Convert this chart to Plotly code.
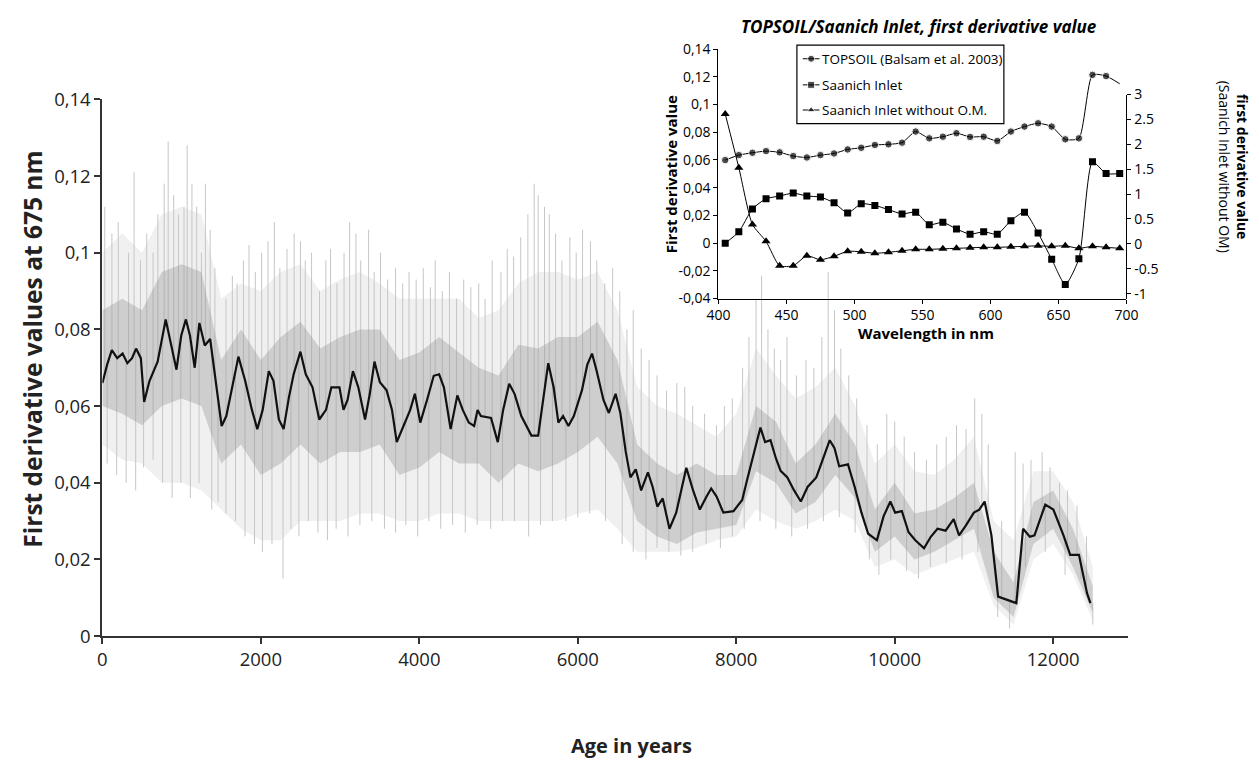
import numpy as np
import plotly.graph_objects as go

# ---------------- main chart data (age in years, first derivative at 675 nm) ----------------
smooth_pts = [
    (0, 0.0660), (60, 0.0708), (119, 0.0746), (187, 0.0725), (255, 0.0737), (315, 0.0712), (374, 0.0725),
    (425, 0.0750), (485, 0.0725), (527, 0.0611), (595, 0.0666), (646, 0.0691), (697, 0.0716), (799, 0.0826),
    (867, 0.0758), (935, 0.0695), (995, 0.0784), (1054, 0.0826), (1105, 0.0784), (1165, 0.0700), (1224, 0.0817),
    (1292, 0.0758), (1360, 0.0775), (1420, 0.0683), (1505, 0.0548), (1564, 0.0574), (1632, 0.0641), (1717, 0.0729),
    (1802, 0.0666), (1887, 0.0590), (1955, 0.0540), (2023, 0.0590), (2100, 0.0691), (2159, 0.0666), (2227, 0.0565),
    (2287, 0.0540), (2355, 0.0624), (2414, 0.0683), (2499, 0.0742), (2567, 0.0683), (2652, 0.0649), (2737, 0.0565),
    (2822, 0.0590), (2890, 0.0649), (2992, 0.0649), (3043, 0.0590), (3094, 0.0616), (3162, 0.0691), (3230, 0.0649),
    (3315, 0.0565), (3375, 0.0632), (3434, 0.0716), (3502, 0.0662), (3587, 0.0641), (3655, 0.0590), (3715, 0.0506),
    (3800, 0.0548), (3885, 0.0590), (3944, 0.0632), (4012, 0.0557), (4097, 0.0616), (4182, 0.0679), (4250, 0.0683),
    (4310, 0.0649), (4395, 0.0540), (4480, 0.0628), (4548, 0.0590), (4624, 0.0557), (4692, 0.0548), (4735, 0.0590),
    (4777, 0.0574), (4905, 0.0569), (4990, 0.0506), (5058, 0.0590), (5134, 0.0658), (5202, 0.0632), (5287, 0.0574),
    (5355, 0.0548), (5415, 0.0523), (5500, 0.0523), (5559, 0.0616), (5627, 0.0712), (5695, 0.0649), (5755, 0.0557),
    (5814, 0.0574), (5882, 0.0548), (5950, 0.0574), (6052, 0.0641), (6120, 0.0708), (6180, 0.0737), (6239, 0.0691),
    (6324, 0.0616), (6392, 0.0582), (6477, 0.0632), (6537, 0.0582), (6605, 0.0481), (6664, 0.0414), (6732, 0.0435),
    (6800, 0.0380), (6885, 0.0427), (6945, 0.0389), (7004, 0.0338), (7072, 0.0359), (7157, 0.0280), (7242, 0.0322),
    (7310, 0.0380), (7370, 0.0439), (7455, 0.0380), (7540, 0.0330), (7625, 0.0364), (7684, 0.0385), (7752, 0.0364),
    (7837, 0.0322), (7965, 0.0326), (8075, 0.0355), (8135, 0.0406), (8220, 0.0473), (8305, 0.0544), (8364, 0.0506),
    (8432, 0.0511), (8500, 0.0464), (8560, 0.0431), (8645, 0.0414), (8730, 0.0380), (8815, 0.0351), (8900, 0.0389),
    (9010, 0.0414), (9095, 0.0464), (9180, 0.0511), (9240, 0.0490), (9299, 0.0443), (9410, 0.0448), (9495, 0.0389),
    (9580, 0.0322), (9665, 0.0267), (9775, 0.0250), (9860, 0.0313), (9945, 0.0351), (10005, 0.0322), (10090, 0.0326),
    (10175, 0.0271), (10260, 0.0250), (10370, 0.0229), (10455, 0.0259), (10540, 0.0280), (10642, 0.0275),
    (10744, 0.0305), (10812, 0.0263), (10897, 0.0288), (10999, 0.0322), (11067, 0.0330), (11135, 0.0351),
    (11220, 0.0263), (11305, 0.0103), (11424, 0.0095), (11535, 0.0086), (11620, 0.0280), (11705, 0.0259),
    (11764, 0.0263), (11900, 0.0343), (12002, 0.0330), (12130, 0.0263), (12215, 0.0212), (12325, 0.0212),
    (12427, 0.0112), (12470, 0.0086),
]
smooth_age = [p[0] for p in smooth_pts]
smooth_val = [p[1] for p in smooth_pts]

# envelope of the raw (unsmoothed) measurements, read every 250 years
env_age = [0, 250, 500, 750, 1000, 1250, 1500, 1750, 2000, 2250, 2500, 2750, 3000, 3250, 3500, 3750, 4000,
           4250, 4500, 4750, 5000, 5250, 5500, 5750, 6000, 6250, 6500, 6750, 7000, 7250, 7500, 7750, 8000,
           8250, 8500, 8750, 9000, 9250, 9500, 9750, 10000, 10250, 10500, 10750, 11000, 11250, 11500, 11750,
           12000, 12250, 12500]
outer_hi = [0.100, 0.105, 0.100, 0.110, 0.112, 0.110, 0.088, 0.092, 0.090, 0.095, 0.097, 0.090, 0.093, 0.095,
            0.092, 0.088, 0.088, 0.088, 0.088, 0.083, 0.085, 0.092, 0.095, 0.095, 0.093, 0.095, 0.085, 0.065,
            0.060, 0.058, 0.055, 0.052, 0.058, 0.075, 0.068, 0.062, 0.065, 0.070, 0.060, 0.045, 0.050, 0.043,
            0.042, 0.046, 0.052, 0.030, 0.025, 0.043, 0.043, 0.035, 0.018]
outer_lo = [0.050, 0.046, 0.045, 0.040, 0.040, 0.038, 0.033, 0.028, 0.025, 0.025, 0.030, 0.030, 0.030, 0.032,
            0.032, 0.030, 0.030, 0.032, 0.032, 0.030, 0.030, 0.030, 0.030, 0.030, 0.032, 0.033, 0.028, 0.022,
            0.022, 0.022, 0.023, 0.025, 0.026, 0.033, 0.030, 0.028, 0.030, 0.033, 0.030, 0.018, 0.020, 0.016,
            0.018, 0.020, 0.022, 0.008, 0.003, 0.020, 0.024, 0.016, 0.004]
core_hi = [0.085, 0.088, 0.085, 0.095, 0.097, 0.095, 0.072, 0.080, 0.072, 0.078, 0.082, 0.075, 0.078, 0.080,
           0.080, 0.072, 0.074, 0.078, 0.074, 0.070, 0.068, 0.076, 0.075, 0.078, 0.078, 0.082, 0.072, 0.050,
           0.045, 0.042, 0.045, 0.042, 0.042, 0.060, 0.056, 0.045, 0.050, 0.058, 0.050, 0.033, 0.040, 0.032,
           0.033, 0.036, 0.040, 0.022, 0.014, 0.035, 0.038, 0.028, 0.013]
core_lo = [0.060, 0.058, 0.055, 0.060, 0.062, 0.060, 0.045, 0.050, 0.042, 0.045, 0.050, 0.045, 0.048, 0.048,
           0.050, 0.042, 0.044, 0.048, 0.045, 0.045, 0.040, 0.045, 0.043, 0.045, 0.048, 0.052, 0.045, 0.030,
           0.026, 0.024, 0.027, 0.028, 0.029, 0.043, 0.040, 0.032, 0.035, 0.042, 0.036, 0.022, 0.026, 0.020,
           0.022, 0.025, 0.028, 0.010, 0.005, 0.024, 0.028, 0.018, 0.006]

# individual tall spikes of the raw record
spike_up_age = [30, 120, 200, 330, 400, 480, 560, 640, 700, 780, 830, 900, 960, 1030, 1070, 1130, 1190, 1250,
                1300, 1360, 1420, 1560, 1640, 1700, 1780, 1850, 1930, 2010, 2090, 2170, 2240, 2330, 2420, 2500,
                2560, 2640, 2740, 2820, 2880, 2960, 3050, 3120, 3200, 3260, 3360, 3430, 3510, 3600, 3700, 3790,
                3870, 3960, 4050, 4140, 4200, 4290, 4380, 4470, 4560, 4650, 4750, 4830, 4920, 5030, 5110, 5190,
                5280, 5370, 5450, 5500, 5580, 5640, 5720, 5800, 5900, 5980, 6060, 6160, 6240, 6340, 6440, 6530,
                6620, 6700, 6800, 6900, 7000, 7120, 7250, 7350, 7450, 7600, 7750, 7850, 7950, 8080, 8160, 8250,
                8320, 8400, 8480, 8560, 8640, 8760, 8880, 8980, 9080, 9160, 9240, 9320, 9420, 9520, 9650, 9780,
                9900, 10000, 10120, 10250, 10400, 10530, 10650, 10780, 10900, 11010, 11100, 11180, 11350, 11520,
                11620, 11720, 11860, 11960, 12080, 12180, 12300, 12420]
spike_up_val = [0.112, 0.105, 0.108, 0.100, 0.121, 0.098, 0.105, 0.100, 0.110, 0.118, 0.129, 0.115, 0.110,
                0.112, 0.128, 0.118, 0.112, 0.100, 0.118, 0.106, 0.096, 0.088, 0.094, 0.092, 0.098, 0.102,
                0.095, 0.100, 0.103, 0.108, 0.096, 0.101, 0.105, 0.103, 0.098, 0.100, 0.090, 0.098, 0.101,
                0.092, 0.100, 0.108, 0.105, 0.098, 0.106, 0.095, 0.100, 0.093, 0.096, 0.092, 0.095, 0.093,
                0.096, 0.091, 0.098, 0.090, 0.095, 0.088, 0.093, 0.091, 0.092, 0.088, 0.098, 0.095, 0.101,
                0.099, 0.104, 0.110, 0.118, 0.115, 0.112, 0.110, 0.105, 0.098, 0.104, 0.100, 0.106, 0.103,
                0.098, 0.092, 0.096, 0.090, 0.080, 0.085, 0.075, 0.072, 0.068, 0.064, 0.066, 0.065, 0.060,
                0.058, 0.055, 0.060, 0.062, 0.070, 0.078, 0.088, 0.094, 0.080, 0.075, 0.072, 0.078, 0.068,
                0.072, 0.070, 0.078, 0.095, 0.085, 0.075, 0.068, 0.062, 0.055, 0.050, 0.058, 0.056, 0.052,
                0.048, 0.046, 0.050, 0.052, 0.055, 0.054, 0.062, 0.058, 0.050, 0.030, 0.048, 0.045, 0.046,
                0.048, 0.044, 0.040, 0.038, 0.034, 0.026]
spike_dn_age = [60, 180, 300, 420, 520, 640, 760, 880, 990, 1110, 1220, 1380, 1460, 1560, 1680, 1800, 1920,
                2020, 2140, 2280, 2380, 2480, 2600, 2720, 2840, 2950, 3100, 3250, 3400, 3560, 3700, 3830, 3980,
                4120, 4270, 4420, 4580, 4730, 4900, 5050, 5200, 5380, 5530, 5680, 5850, 6000, 6150, 6350, 6560,
                6700, 6860, 7000, 7150, 7300, 7450, 7620, 7800, 7950, 8100, 8300, 8500, 8700, 8900, 9100, 9300,
                9500, 9680, 9800, 9950, 10150, 10300, 10450, 10650, 10850, 11050, 11300, 11450, 11650, 11900,
                12150, 12350, 12500]
spike_dn_val = [0.045, 0.042, 0.040, 0.038, 0.044, 0.046, 0.040, 0.036, 0.040, 0.036, 0.040, 0.033, 0.035,
                0.032, 0.030, 0.026, 0.024, 0.022, 0.024, 0.015, 0.028, 0.026, 0.030, 0.027, 0.025, 0.028,
                0.026, 0.029, 0.030, 0.028, 0.027, 0.029, 0.026, 0.030, 0.028, 0.029, 0.027, 0.029, 0.028,
                0.030, 0.030, 0.026, 0.029, 0.030, 0.030, 0.031, 0.032, 0.030, 0.024, 0.022, 0.020, 0.023,
                0.022, 0.021, 0.022, 0.024, 0.023, 0.026, 0.028, 0.030, 0.028, 0.026, 0.028, 0.030, 0.031,
                0.027, 0.020, 0.016, 0.020, 0.017, 0.015, 0.018, 0.019, 0.020, 0.022, 0.005, 0.002, 0.018,
                0.022, 0.016, 0.015, 0.003]

main_xticks = [0, 2000, 4000, 6000, 8000, 10000, 12000]
main_xticktext = ["0", "2000", "4000", "6000", "8000", "10000", "12000"]
main_yticks = [0, 0.02, 0.04, 0.06, 0.08, 0.10, 0.12, 0.14]
main_yticktext = ["0", "0,02", "0,04", "0,06", "0,08", "0,1", "0,12", "0,14"]

# ---------------- inset data ----------------
wavelength = [405, 415, 425, 435, 445, 455, 465, 475, 485, 495, 505, 515, 525, 535, 545, 555, 565, 575, 585,
              595, 605, 615, 625, 635, 645, 655, 665, 675, 685, 695]
topsoil = [0.0599, 0.0635, 0.0652, 0.0664, 0.0655, 0.0628, 0.0618, 0.0635, 0.0647, 0.0676, 0.0688, 0.0708,
           0.0713, 0.0725, 0.0805, 0.0756, 0.0768, 0.0793, 0.0766, 0.0768, 0.0737, 0.0805, 0.0841, 0.0865,
           0.0841, 0.0749, 0.0756, 0.1214, 0.1205, 0.1150]
saanich = [0.0000, 0.0082, 0.0247, 0.0320, 0.0340, 0.0361, 0.0340, 0.0332, 0.0291, 0.0218, 0.0284, 0.0272,
           0.0242, 0.0211, 0.0223, 0.0133, 0.0150, 0.0102, 0.0065, 0.0082, 0.0065, 0.0162, 0.0223, 0.0073,
           -0.0116, -0.0298, -0.0112, 0.0587, 0.0502, 0.0502]
saanich_no_om = [2.61, 1.53, 0.39, 0.05, -0.44, -0.44, -0.24, -0.32, -0.25, -0.15, -0.16, -0.19, -0.17, -0.14,
                 -0.11, -0.11, -0.10, -0.09, -0.08, -0.07, -0.07, -0.06, -0.05, -0.04, -0.05, -0.04, -0.09,
                 -0.05, -0.07, -0.09]
inset_xticks = [400, 450, 500, 550, 600, 650, 700]
inset_yticks = [-0.04, -0.02, 0, 0.02, 0.04, 0.06, 0.08, 0.10, 0.12, 0.14]
inset_yticktext = ["-0,04", "-0,02", "0", "0,02", "0,04", "0,06", "0,08", "0,1", "0,12", "0,14"]
inset_y2ticks = [-1, -0.5, 0, 0.5, 1, 1.5, 2, 2.5, 3]
inset_y2ticktext = ["-1", "-0.5", "0", "0.5", "1", "1.5", "2", "2.5", "3"]
legend_names = ["TOPSOIL (Balsam et al. 2003)", "Saanich Inlet", "Saanich Inlet without O.M."]

# ---------------- layout helpers (pixel positions) ----------------
W, H = 1259, 760
def fx(px):
    return px / W
def fy(py):
    return (H - py) / H

MAIN_L, MAIN_R, MAIN_T, MAIN_B = 84, 1130, 80, 635
INS_L, INS_R, INS_T, INS_B, INS_R3 = 712, 1128, 28, 286, 75

FONT = "Open Sans, Lato, DejaVu Sans, sans-serif"
INK = "#222222"

fig = go.Figure()

# outer raw envelope
fig.add_trace(go.Scatter(x=env_age, y=outer_lo, mode="lines", line=dict(width=0, color="#efefef"),
                         showlegend=False, xaxis="x", yaxis="y", hoverinfo="skip"))
fig.add_trace(go.Scatter(x=env_age, y=outer_hi, mode="lines", line=dict(width=0, color="#efefef"),
                         fill="tonexty", fillcolor="#f0f0f0", showlegend=False, xaxis="x", yaxis="y",
                         hoverinfo="skip"))
# spikes
sx, sy = [], []
for a, v in zip(spike_up_age, spike_up_val):
    b = float(np.interp(a, smooth_age, smooth_val))
    sx += [a, a, None]
    sy += [b, v, None]
for a, v in zip(spike_dn_age, spike_dn_val):
    b = float(np.interp(a, smooth_age, smooth_val))
    sx += [a, a, None]
    sy += [b, v, None]
fig.add_trace(go.Scatter(x=sx, y=sy, mode="lines", line=dict(width=1, color="#c6c6c6"),
                         showlegend=False, xaxis="x", yaxis="y", hoverinfo="skip", connectgaps=False))
# dense core
fig.add_trace(go.Scatter(x=env_age, y=core_lo, mode="lines", line=dict(width=0, color="#cccccc"),
                         showlegend=False, xaxis="x", yaxis="y", hoverinfo="skip"))
fig.add_trace(go.Scatter(x=env_age, y=core_hi, mode="lines", line=dict(width=0, color="#cccccc"),
                         fill="tonexty", fillcolor="rgba(150,150,150,0.38)", showlegend=False,
                         xaxis="x", yaxis="y", hoverinfo="skip"))
# smoothed curve
fig.add_trace(go.Scatter(x=smooth_age, y=smooth_val, mode="lines", line=dict(width=2.2, color="#111111"),
                         showlegend=False, xaxis="x", yaxis="y"))

# inset series
msize_top = [7.5] * (len(wavelength) - 1) + [0]
fig.add_trace(go.Scatter(x=wavelength, y=topsoil, mode="lines+markers", xaxis="x2", yaxis="y2",
                         line=dict(color="black", width=1, shape="spline", smoothing=0.6),
                         marker=dict(symbol="circle", size=msize_top, color="black"), showlegend=False))
fig.add_trace(go.Scatter(x=wavelength, y=saanich, mode="lines+markers", xaxis="x2", yaxis="y2",
                         line=dict(color="black", width=1, shape="spline", smoothing=0.6),
                         marker=dict(symbol="square", size=7, color="black"), showlegend=False))
fig.add_trace(go.Scatter(x=wavelength, y=saanich_no_om, mode="lines+markers", xaxis="x2", yaxis="y3",
                         line=dict(color="black", width=1, shape="spline", smoothing=0.6),
                         marker=dict(symbol="triangle-up", size=8, color="black"), showlegend=False))

# manual legend in pixel space
leg_y = [38, 65, 91]
leg_sym = ["circle", "square", "triangle-up"]
for yy, sym in zip(leg_y, leg_sym):
    fig.add_trace(go.Scatter(x=[798, 806.5, 815], y=[yy, yy, yy], mode="lines+markers", xaxis="x4", yaxis="y4",
                             line=dict(color="black", width=1),
                             marker=dict(symbol=sym, size=[0, 7, 0], color="black"), showlegend=False,
                             hoverinfo="skip"))

annotations = []
for yy, name in zip(leg_y, legend_names):
    annotations.append(dict(x=816, y=yy, xref="x4", yref="y4", text=name, showarrow=False, xanchor="left",
                            yanchor="middle", font=dict(family=FONT, size=13.5, color="black")))

# titles
annotations += [
    dict(x=13, y=338, xref="x4", yref="y4", text="<b>First derivative values at 675 nm</b>", textangle=-90,
         showarrow=False, font=dict(family=FONT, size=24.5, color=INK)),
    dict(x=623, y=748, xref="x4", yref="y4", text="<b>Age in years</b>", showarrow=False,
         font=dict(family=FONT, size=20, color=INK)),
    dict(x=916, y=5, xref="x4", yref="y4", text="<b><i>TOPSOIL/Saanich Inlet, first derivative value</i></b>",
         showarrow=False, font=dict(family=FONT, size=17, color="black")),
    dict(x=924, y=322, xref="x4", yref="y4", text="<b>Wavelength in nm</b>", showarrow=False,
         font=dict(family=FONT, size=15, color="black")),
    dict(x=663, y=157, xref="x4", yref="y4", text="<b>First derivative value</b>", textangle=-90,
         showarrow=False, font=dict(family=FONT, size=15, color="black")),
    dict(x=1238, y=150, xref="x4", yref="y4",
         text="<b>first derivative value</b><br>(Saanich Inlet without OM)", textangle=90,
         showarrow=False, font=dict(family=FONT, size=14, color="black")),
]

shapes = [dict(type="rect", xref="x4", yref="y4", x0=792, x1=1003, y0=24, y1=105,
               line=dict(color="black", width=1.2), fillcolor="white", layer="below")]

main_axis = dict(showgrid=False, zeroline=False, showline=True, linecolor="#333333", linewidth=2,
                 ticks="outside", ticklen=6, tickwidth=2, tickcolor="#333333",
                 tickfont=dict(family=FONT, size=18.5, color=INK))
inset_axis = dict(showgrid=False, zeroline=False, showline=True, linecolor="black", linewidth=1,
                  ticks="outside", ticklen=4, tickwidth=1, tickcolor="black",
                  tickfont=dict(family=FONT, size=14, color="black"))

fig.update_layout(
    width=W, height=H, margin=dict(l=0, r=0, t=0, b=0, pad=0), autosize=False,
    paper_bgcolor="white", plot_bgcolor="rgba(0,0,0,0)", showlegend=False,
    xaxis=dict(domain=[fx(MAIN_L), fx(MAIN_R)], range=[0, 12950], anchor="y", tickvals=main_xticks,
               ticktext=main_xticktext, **main_axis),
    yaxis=dict(domain=[fy(MAIN_B), fy(MAIN_T)], range=[0, 0.14], anchor="x", tickvals=main_yticks,
               ticktext=main_yticktext, **main_axis),
    xaxis2=dict(domain=[fx(INS_L), fx(INS_R)], range=[400, 700], anchor="y2", tickvals=inset_xticks,
                **inset_axis),
    yaxis2=dict(domain=[fy(INS_B), fy(INS_T)], range=[-0.04, 0.14], anchor="x2", tickvals=inset_yticks,
                ticktext=inset_yticktext, **inset_axis),
    yaxis3=dict(domain=[fy(INS_B), fy(INS_R3)], range=[-1.1, 3], anchor="x2", side="right",
                tickvals=inset_y2ticks, ticktext=inset_y2ticktext, **inset_axis),
    xaxis4=dict(domain=[0, 1], range=[0, W], anchor="y4", visible=False, fixedrange=True),
    yaxis4=dict(domain=[0, 1], range=[H, 0], anchor="x4", visible=False, fixedrange=True),
    annotations=annotations, shapes=shapes,
)

fig.write_html("out.html")
